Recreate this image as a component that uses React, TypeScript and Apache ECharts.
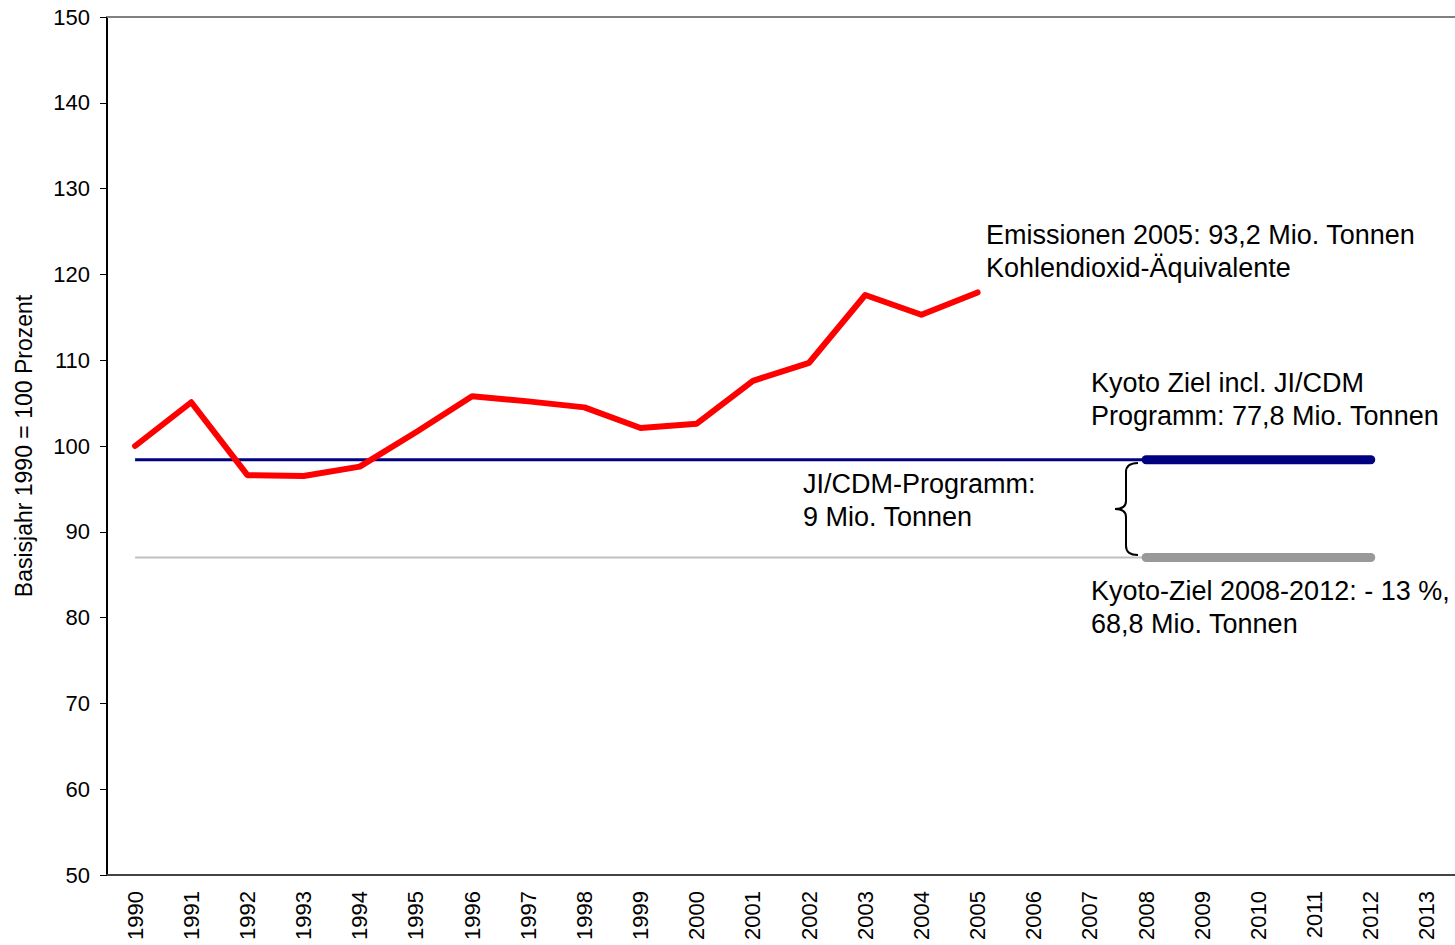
import { useEffect, useRef } from "react";
import * as echarts from "echarts";

const years = [
  "1990", "1991", "1992", "1993", "1994", "1995", "1996", "1997", "1998", "1999", "2000", "2001",
  "2002", "2003", "2004", "2005", "2006", "2007", "2008", "2009", "2010", "2011", "2012", "2013",
];
const emissions = [100, 105.1, 96.6, 96.5, 97.6, 101.6, 105.8, 105.2, 104.5, 102.1, 102.6, 107.6, 109.7, 117.6, 115.3, 117.9];
const kyotoInclThin = [["1990", 98.4], ["2008", 98.4]];
const kyotoInclPeriod = [["2008", 98.4], ["2012", 98.4]];
const kyotoThin = [["1990", 87], ["2008", 87]];
const kyotoPeriod = [["2008", 87], ["2012", 87]];

const yTicks = { min: 50, max: 150, interval: 10 };

echarts.graphic.registerShape(
  "brace",
  echarts.graphic.extendPath(
    "M 23 0 C 15 0 11 3 11 9 L 11 38 C 11 43 8 46 0 46 C 8 46 11 49 11 54 L 11 83 C 11 89 15 92 23 92",
    {}
  )
);

const FONT = "'Liberation Sans', Arial, sans-serif";

export default function App() {
  const ref = useRef<HTMLDivElement>(null);
  useEffect(() => {
    const chart = echarts.init(ref.current!, null, { renderer: "svg" });
    const txt = (x: number, y: number, text: string) => ({
      type: "text",
      x,
      y,
      style: { text, font: `27px ${FONT}`, fill: "#000", lineHeight: 33, textVerticalAlign: "top" },
    });
    chart.setOption({
      animation: false,
      backgroundColor: "#fff",
      textStyle: { fontFamily: FONT },
      grid: { left: 107, top: 17, bottom: 70, right: -2 },
      xAxis: [
        {
          type: "category",
          data: years,
          boundaryGap: true,
          axisLine: { lineStyle: { color: "#444", width: 2 } },
          axisTick: { length: 8, lineStyle: { color: "#000", width: 1 } },
          axisLabel: { rotate: 90, fontSize: 22, color: "#000", margin: 16, interval: 0, fontFamily: FONT },
        },
        {
          type: "category",
          data: years,
          position: "top",
          axisLine: { lineStyle: { color: "#808080", width: 2 } },
          axisTick: { show: false },
          axisLabel: { show: false },
        },
      ],
      yAxis: {
        type: "value",
        min: yTicks.min,
        max: yTicks.max,
        interval: yTicks.interval,
        name: "Basisjahr 1990 = 100 Prozent",
        nameLocation: "middle",
        nameGap: 72,
        nameTextStyle: { fontSize: 23, color: "#000", fontFamily: FONT },
        axisLine: { show: true, lineStyle: { color: "#000", width: 2 } },
        axisTick: { show: true, length: 7, lineStyle: { color: "#000", width: 1 } },
        axisLabel: { fontSize: 22, color: "#000", margin: 17, fontFamily: FONT },
        splitLine: { show: false },
      },
      series: [
        {
          type: "line",
          data: kyotoThin,
          symbol: "none",
          lineStyle: { color: "#c0c0c0", width: 2 },
          z: 2,
        },
        {
          type: "line",
          data: kyotoPeriod,
          symbol: "none",
          lineStyle: { color: "#999999", width: 9, cap: "round" },
          z: 3,
        },
        {
          type: "line",
          data: kyotoInclThin,
          symbol: "none",
          lineStyle: { color: "#000080", width: 3 },
          z: 2,
        },
        {
          type: "line",
          data: kyotoInclPeriod,
          symbol: "none",
          lineStyle: { color: "#000080", width: 9, cap: "round" },
          z: 3,
        },
        {
          type: "line",
          data: emissions,
          symbol: "none",
          lineStyle: { color: "#ff0000", width: 6, cap: "round", join: "round" },
          z: 4,
        },
      ],
      graphic: [
        {
          type: "brace",
          x: 1115,
          y: 463,
          style: { stroke: "#000", lineWidth: 2, fill: "none" },
        },
        txt(986, 218, "Emissionen 2005: 93,2 Mio. Tonnen\nKohlendioxid-Äquivalente"),
        txt(1091, 366, "Kyoto Ziel incl. JI/CDM\nProgramm: 77,8 Mio. Tonnen"),
        txt(803, 467, "JI/CDM-Programm:\n9 Mio. Tonnen"),
        txt(1091, 574, "Kyoto-Ziel 2008-2012: - 13 %,\n68,8 Mio. Tonnen"),
      ],
    });
    return () => chart.dispose();
  }, []);
  return (
    <div
      ref={ref}
      style={{ position: "absolute", left: 0, top: 0, width: 1455, height: 945, overflow: "hidden" }}
    />
  );
}
